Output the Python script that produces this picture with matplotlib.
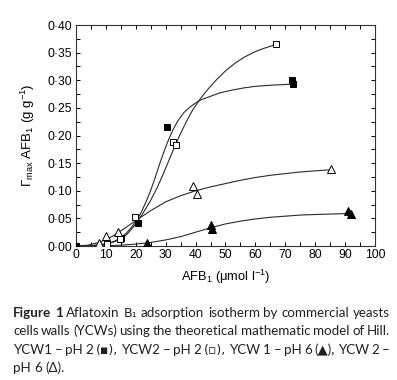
import matplotlib
matplotlib.use("Agg")
import matplotlib.pyplot as plt
from matplotlib.ticker import MultipleLocator, FuncFormatter

plt.rcParams['font.family'] = ['Liberation Sans', 'DejaVu Sans']
plt.rcParams['mathtext.fontset'] = 'custom'
plt.rcParams['mathtext.rm'] = 'Liberation Sans'
plt.rcParams['mathtext.it'] = 'Liberation Sans:italic'

ycw1_ph2_x = [0, 15, 20.8, 30.4, 72.2, 72.6]
ycw1_ph2_y = [0.0, 0.014, 0.041, 0.215, 0.300, 0.293]
ycw2_ph2_x = [10.5, 14.7, 19.7, 32.6, 33.3, 66.9]
ycw2_ph2_y = [0.003, 0.013, 0.053, 0.189, 0.183, 0.365]
ycw1_ph6_x = [0, 23.6, 45.0, 45.6, 91.1, 91.9]
ycw1_ph6_y = [0.0, 0.005, 0.038, 0.031, 0.063, 0.058]
ycw2_ph6_x = [7.7, 10.2, 14.0, 39.2, 40.6, 85.2]
ycw2_ph6_y = [0.006, 0.018, 0.025, 0.108, 0.094, 0.139]

# --- Hill model curves ---
fit1_ph2_x = [0, 5, 10, 13, 15, 17, 19, 20.5, 22, 23.5, 25, 26.5, 28, 29.5, 31,
              32.5, 34, 36, 38, 40, 42, 45, 48, 52, 56, 60, 65, 72.5]
fit1_ph2_y = [0.0, 0.0004, 0.004, 0.009, 0.015, 0.024, 0.037, 0.048, 0.063, 0.081,
              0.101, 0.124, 0.149, 0.172, 0.193, 0.211, 0.226, 0.241, 0.251, 0.259,
              0.265, 0.271, 0.277, 0.282, 0.286, 0.289, 0.291, 0.293]
fit2_ph2_x = [0, 5, 10, 13, 15, 17, 19, 20.5, 22, 23.5, 25, 27, 29, 31, 33, 35,
              37, 39, 41.5, 44, 47, 50, 53, 56, 60, 63, 67]
fit2_ph2_y = [0.0, 0.0003, 0.003, 0.008, 0.013, 0.021, 0.033, 0.044, 0.056, 0.069,
              0.083, 0.104, 0.128, 0.154, 0.180, 0.204, 0.226, 0.246, 0.266, 0.283,
              0.301, 0.317, 0.330, 0.341, 0.352, 0.358, 0.365]
fit1_ph6_x = [0, 10, 15, 20, 25, 30, 35, 40, 45, 50, 55, 60, 65, 70, 75, 80, 86, 91.5]
fit1_ph6_y = [0.0, 0.0005, 0.0015, 0.0035, 0.0065, 0.011, 0.017, 0.025, 0.033, 0.040,
              0.045, 0.049, 0.052, 0.054, 0.056, 0.057, 0.058, 0.059]
fit2_ph6_x = [0, 4, 8, 12, 16, 20, 25, 30, 35, 40, 45, 50, 55, 60, 65, 70, 75, 80, 85]
fit2_ph6_y = [0.0, 0.0015, 0.007, 0.017, 0.031, 0.046, 0.064, 0.080, 0.091, 0.100,
              0.107, 0.113, 0.119, 0.124, 0.128, 0.131, 0.134, 0.136, 0.138]

fig = plt.figure(figsize=(3.97, 3.80), dpi=100)
ax = fig.add_axes([0.1914, 0.3526, 0.7532, 0.5816])

lc = '#2a2a2a'
for fx, fy in [(fit1_ph2_x, fit1_ph2_y), (fit2_ph2_x, fit2_ph2_y),
               (fit1_ph6_x, fit1_ph6_y), (fit2_ph6_x, fit2_ph6_y)]:
    ax.plot(fx, fy, color=lc, lw=0.8, zorder=2)

ms = 4.6
ax.plot(ycw1_ph2_x, ycw1_ph2_y, 's', ms=ms, mfc='black', mec='black', mew=0.7, zorder=3)
ax.plot(ycw2_ph2_x, ycw2_ph2_y, 's', ms=ms, mfc='white', mec='black', mew=0.7, zorder=3)
ax.plot(ycw1_ph6_x, ycw1_ph6_y, '^', ms=ms + 1, mfc='black', mec='black', mew=0.7, zorder=3)
ax.plot(ycw2_ph6_x, ycw2_ph6_y, '^', ms=ms + 1, mfc='white', mec='black', mew=0.7, zorder=3)

ax.set_xlim(0, 100)
ax.set_ylim(0, 0.40)
ax.xaxis.set_major_locator(MultipleLocator(10))
ax.xaxis.set_minor_locator(MultipleLocator(5))
ax.yaxis.set_major_locator(MultipleLocator(0.05))
ax.yaxis.set_minor_locator(MultipleLocator(0.025))
ax.yaxis.set_major_formatter(FuncFormatter(lambda v, p: f"{v:.2f}".replace('.', '\u00b7')))
ax.tick_params(which='both', direction='in', top=True, right=True,
               labelsize=8.7, width=0.7, colors='black', pad=2)
ax.tick_params(which='major', length=3)
ax.tick_params(which='minor', length=3)
ax.tick_params(axis='y', pad=3)
for s in ax.spines.values():
    s.set_linewidth(0.8)
    s.set_color('#333333')

ax.set_xlabel(r'$\mathrm{AFB_1\ (\mu mol\ l^{-1})}$', fontsize=9.3, labelpad=5)
ax.set_ylabel(r'$\mathrm{\Gamma_{max}\ AFB_1\ (g\ g^{-1})}$', fontsize=9.5, labelpad=7)

# --- caption, justified like the printed page ---
cap_family = ['Lato', 'DejaVu Sans']
sym_family = ['DejaVu Sans']
cap_color = '#231f20'
cap_size = 9.6
lines = [
    [("Figure", 'bold'), ("1", 'bold'), ("Aflatoxin", 'normal'), ("B\u2081", 'sym'),
     ("adsorption", 'normal'), ("isotherm", 'normal'), ("by", 'normal'),
     ("commercial", 'normal'), ("yeasts", 'normal')],
    [(w, 'normal') for w in "cells walls (YCWs) using the theoretical mathematic model of Hill.".split()],
    [(w, 'sym' if ('\u25aa' in w or '\u25ab' in w) else 'normal')
     for w in "YCW1 \u2013 pH 2 (\u25aa), YCW2 \u2013 pH 2 (\u25ab), YCW 1 \u2013 pH 6 (\u25b2), YCW 2 \u2013".split()],
    [(w, 'normal') for w in "pH 6 (\u0394).".split()],
]
line_y = [1 - 317 / 380, 1 - 335 / 380, 1 - 354 / 380, 1 - 372 / 380]
x0, x1 = 13 / 397, 390 / 397

fig.canvas.draw()
r = fig.canvas.get_renderer()
space = fig.text(0, 0, "a a", fontsize=cap_size, family=cap_family)
aa = fig.text(0, 0, "aa", fontsize=cap_size, family=cap_family)
sp_w = (space.get_window_extent(r).width - aa.get_window_extent(r).width) / fig.bbox.width
space.remove()
aa.remove()

for i, (words, y) in enumerate(zip(lines, line_y)):
    texts = []
    for w, style in words:
        if style == 'sym':
            t = fig.text(x0, y, w, fontsize=cap_size - 0.6, family=sym_family,
                         color=cap_color, va='baseline')
        else:
            t = fig.text(x0, y, w, fontsize=cap_size, family=cap_family, weight=style,
                         color=cap_color, va='baseline')
        texts.append(t)
    widths = [t.get_window_extent(r).width / fig.bbox.width for t in texts]
    if i < len(lines) - 1 and len(texts) > 1:
        gap = (x1 - x0 - sum(widths)) / (len(texts) - 1)
    else:
        gap = sp_w
    x = x0
    for t, w in zip(texts, widths):
        t.set_x(x)
        x += w + gap

fig.savefig('out.png', dpi=100)
